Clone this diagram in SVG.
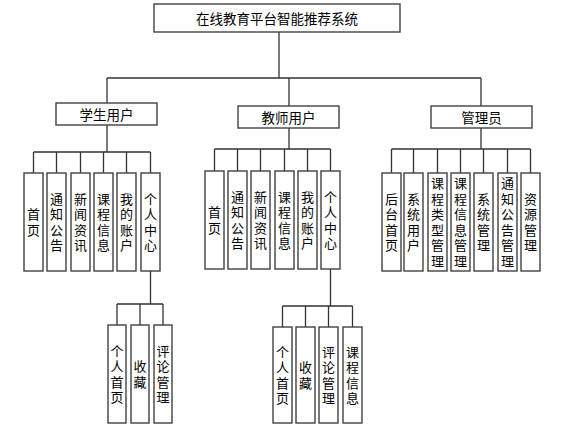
<svg xmlns="http://www.w3.org/2000/svg" width="566" height="429" viewBox="0 0 566 429">
<style>
rect{fill:#fff;stroke:#404040;stroke-width:1.4}
text{font-family:"Noto Sans CJK SC","Liberation Sans",sans-serif;font-size:13px;fill:#000;text-anchor:middle}
.h{font-size:13.5px;dominant-baseline:central}
.v{writing-mode:vertical-rl;letter-spacing:2.5px}
#conn path{fill:none;stroke:#333;stroke-width:1.3}
</style>
<rect x="0" y="0" width="566" height="429" style="fill:#fff;stroke:none"/>
<g id="conn">
<path d="M279 32V78M107 78H481M107 78V103M289 78V106M481 78V106"/>
<path d="M107 125V152M33.5 152H150.5M33.5 152V173M56.5 152V173M80.5 152V173M103.5 152V173M126.5 152V173M150.5 152V173"/>
<path d="M150.5 271V304M117 304H163M117 304V325M140 304V325M163 304V325"/>
<path d="M289 128V149M214.5 149H330.5M214.5 149V171M237.5 149V171M260.5 149V171M284.5 149V171M307.5 149V171M330.5 149V171"/>
<path d="M330.5 269V306M282.5 306H352.5M282.5 306V327M305.5 306V327M328.5 306V327M352.5 306V327"/>
<path d="M481 128V149M391.5 149H530.5M391.5 149V173M413.5 149V173M437.5 149V173M460.5 149V173M483.5 149V173M507.5 149V173M530.5 149V173"/>
</g>
<g id="root"><rect x="154" y="4" width="246" height="28"/><text class="h" x="277" y="18">在线教育平台智能推荐系统</text></g>
<g id="student"><rect x="56" y="103" width="101" height="22"/><text class="h" x="106.5" y="114">学生用户</text></g>
<g id="teacher"><rect x="238" y="106" width="101" height="22"/><text class="h" x="288.5" y="117">教师用户</text></g>
<g id="admin"><rect x="431" y="106" width="101" height="22"/><text class="h" x="481.5" y="117">管理员</text></g>

<g id="s1"><rect x="24" y="173" width="19" height="98"/><text class="v" x="33.5" y="223.25">首页</text></g>
<g id="s2"><rect x="47" y="173" width="19" height="98"/><text class="v" x="56.5" y="223.25">通知公告</text></g>
<g id="s3"><rect x="71" y="173" width="19" height="98"/><text class="v" x="80.5" y="223.25">新闻资讯</text></g>
<g id="s4"><rect x="94" y="173" width="19" height="98"/><text class="v" x="103.5" y="223.25">课程信息</text></g>
<g id="s5"><rect x="117" y="173" width="19" height="98"/><text class="v" x="126.5" y="223.25">我的账户</text></g>
<g id="s6"><rect x="141" y="173" width="19" height="98"/><text class="v" x="150.5" y="223.25">个人中心</text></g>

<g id="s6a"><rect x="108" y="325" width="18" height="98"/><text class="v" x="117" y="375.25">个人首页</text></g>
<g id="s6b"><rect x="131" y="325" width="18" height="98"/><text class="v" x="140" y="375.25">收藏</text></g>
<g id="s6c"><rect x="154" y="325" width="18" height="98"/><text class="v" x="163" y="375.25">评论管理</text></g>

<g id="t1"><rect x="205" y="171" width="19" height="98"/><text class="v" x="214.5" y="221.25">首页</text></g>
<g id="t2"><rect x="228" y="171" width="19" height="98"/><text class="v" x="237.5" y="221.25">通知公告</text></g>
<g id="t3"><rect x="251" y="171" width="19" height="98"/><text class="v" x="260.5" y="221.25">新闻资讯</text></g>
<g id="t4"><rect x="275" y="171" width="19" height="98"/><text class="v" x="284.5" y="221.25">课程信息</text></g>
<g id="t5"><rect x="298" y="171" width="19" height="98"/><text class="v" x="307.5" y="221.25">我的账户</text></g>
<g id="t6"><rect x="321" y="171" width="19" height="98"/><text class="v" x="330.5" y="221.25">个人中心</text></g>

<g id="t6a"><rect x="273" y="327" width="19" height="96"/><text class="v" x="282.5" y="376.25">个人首页</text></g>
<g id="t6b"><rect x="296" y="327" width="19" height="96"/><text class="v" x="305.5" y="376.25">收藏</text></g>
<g id="t6c"><rect x="319" y="327" width="19" height="96"/><text class="v" x="328.5" y="376.25">评论管理</text></g>
<g id="t6d"><rect x="343" y="327" width="19" height="96"/><text class="v" x="352.5" y="376.25">课程信息</text></g>

<g id="a1"><rect x="382" y="173" width="19" height="98"/><text class="v" x="391.5" y="223.25">后台首页</text></g>
<g id="a2"><rect x="404" y="173" width="19" height="98"/><text class="v" x="413.5" y="223.25">系统用户</text></g>
<g id="a3"><rect x="428" y="173" width="19" height="98"/><text class="v" x="437.5" y="223.25">课程类型管理</text></g>
<g id="a4"><rect x="451" y="173" width="19" height="98"/><text class="v" x="460.5" y="223.25">课程信息管理</text></g>
<g id="a5"><rect x="474" y="173" width="19" height="98"/><text class="v" x="483.5" y="223.25">系统管理</text></g>
<g id="a6"><rect x="498" y="173" width="19" height="98"/><text class="v" x="507.5" y="223.25">通知公告管理</text></g>
<g id="a7"><rect x="521" y="173" width="19" height="98"/><text class="v" x="530.5" y="223.25">资源管理</text></g>
</svg>
